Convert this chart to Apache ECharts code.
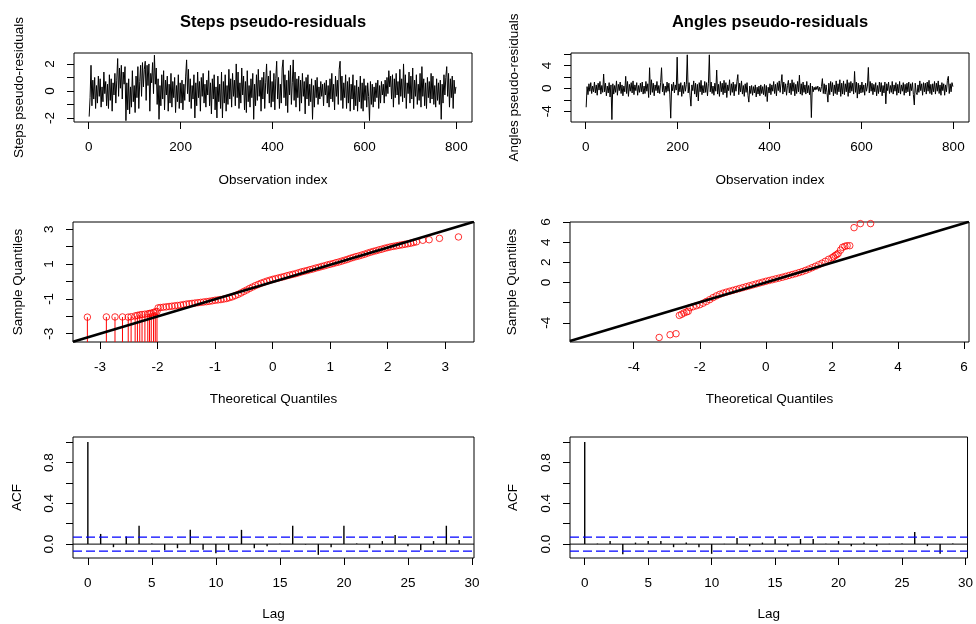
<!DOCTYPE html>
<html><head><meta charset="utf-8">
<script src="https://cdn.jsdelivr.net/npm/echarts@6/dist/echarts.min.js"></script>
<style>html,body{margin:0;padding:0;background:#fff}#c{width:976px;height:624px}</style>
</head><body><div id="c"></div>
<script>
// ---------------- DATA ----------------
// Steps pseudo-residuals (read at every 2nd observation, index 1,3,5,...)
const stepsResid = [
-1.9,-0.5,1.9,-1.1,0.8,-0.6,1.0,-1.3,0.4,-0.9,
1.1,-0.4,0.9,-1.2,0.3,-0.8,1.4,-0.2,0.7,-1.1,
0.5,-1.3,1.2,-0.7,0.9,-1.5,0.6,-0.3,1.3,-0.9,
0.8,2.4,-0.4,1.7,0.2,1.9,-0.6,1.4,0.5,1.8,
-2.2,0.6,-1.4,0.9,-1.7,0.3,-1.2,1.5,-0.8,0.4,
-1.6,1.1,-0.5,1.8,-1.3,0.7,1.9,-0.4,2.1,0.3,
1.6,2.2,-0.7,1.9,0.4,2.0,-1.5,1.3,0.6,2.1,
-0.2,2.65,0.5,1.7,-1.0,0.9,-2.1,0.4,-1.1,1.2,
-0.6,1.5,-1.4,0.8,-0.3,1.1,-1.5,0.5,-0.9,1.3,
-1.2,0.7,-0.5,1.0,-1.6,0.4,-0.8,1.2,-1.3,0.6,
-0.9,0.8,-1.4,0.5,-0.7,1.1,2.3,-0.2,1.6,-0.8,
0.9,-1.3,0.4,-0.6,1.2,-2.0,0.6,-1.1,1.4,-0.5,
0.7,-1.5,1.0,-0.4,1.3,-0.9,0.5,-1.2,0.8,-0.3,
1.5,-1.1,0.6,-1.7,0.9,-0.6,1.2,-1.4,0.3,-2.0,
1.1,-0.8,0.5,-1.3,1.4,-2.0,0.7,-0.9,1.2,-1.5,
0.4,-1.0,1.6,-0.6,0.9,-1.2,1.3,-0.4,0.8,-1.1,
2.0,-0.5,1.4,-1.3,0.6,-0.9,1.7,-0.3,1.1,-1.4,
0.7,-1.6,1.5,-0.8,0.4,-1.2,0.9,-0.5,1.3,-2.1,
0.5,-1.1,1.2,-0.7,1.6,-0.4,0.8,-1.5,1.0,-0.6,
1.4,-1.3,0.6,2.0,-0.2,1.1,-0.9,1.5,-1.2,0.7,
-0.8,1.3,-1.4,0.9,2.2,-0.6,1.0,-1.3,0.5,-0.9,
1.7,2.3,-0.5,1.2,-1.1,0.8,-1.6,1.5,-0.3,1.9,
-1.0,0.6,2.3,-0.7,1.4,-1.2,0.9,-0.5,1.1,-1.5,
0.8,-0.9,1.3,-0.4,0.7,-1.7,1.0,-0.6,1.2,-1.1,
0.5,-0.8,0.9,-2.1,0.4,-1.2,0.8,-0.5,1.0,-1.0,
0.3,-0.6,0.7,-0.4,0.5,-1.1,0.6,-0.3,0.8,-0.9,
0.4,-1.2,0.9,-0.6,1.3,-0.8,0.5,-1.4,1.1,-0.4,
0.8,-1.0,1.6,2.2,-0.7,1.1,-1.3,0.6,-0.5,1.2,
-1.3,0.7,-0.9,1.0,-1.5,0.5,-0.6,1.2,-1.4,0.4,
-1.1,0.8,-1.5,0.3,-0.8,1.1,-1.3,0.6,-1.5,0.9,
-0.7,0.4,-1.2,0.6,-0.4,-2.2,0.7,-1.0,0.5,-1.2,
0.3,-0.8,0.6,-0.5,0.8,-1.3,0.4,-0.9,0.7,-0.3,
0.5,-0.9,0.8,-0.4,1.0,-0.2,1.5,0.3,1.1,-0.6,
1.2,-1.2,0.9,-0.5,1.3,-0.3,0.7,-1.0,1.6,-0.4,
0.9,-0.8,2.0,-0.5,1.2,-1.3,0.6,-0.2,1.4,-0.9,
1.1,-0.6,1.7,-1.3,0.8,-0.4,1.2,-1.0,0.5,-0.7,
1.3,-1.2,1.8,-0.4,0.9,-1.1,0.6,-1.3,1.0,-0.5,
0.7,-0.9,1.3,-0.6,1.1,-1.0,0.4,-1.2,0.9,-0.7,
0.6,-1.0,0.8,-2.1,0.5,-0.9,1.2,-0.3,1.0,1.8,
-0.4,1.3,-1.2,0.9,-0.5,1.1,-1.3,0.8,-0.2,0.3];

// Angles pseudo-residuals (same observation indices)
const anglesResid = [
-3.3,0.3,-1.1,0.8,-0.5,1.0,-0.9,0.4,-0.6,1.1,
-0.8,0.6,-1.2,0.9,-0.3,1.2,-1.0,0.5,-0.7,2.5,
-0.6,0.9,-1.3,0.4,-0.8,1.0,-1.5,0.6,-5.45,0.8,
-1.0,0.5,-0.7,1.3,-1.2,0.7,-0.4,1.1,-0.9,0.6,
-1.3,0.4,-0.6,2.1,-0.9,1.2,-1.4,0.7,-0.5,1.0,
-0.8,1.3,-1.1,0.6,-0.4,1.0,-1.2,0.5,-0.7,0.9,
-0.6,1.1,-1.0,0.4,-0.9,1.2,-0.5,0.8,-1.6,3.6,
-1.1,1.5,-0.7,0.9,-1.3,0.6,-0.4,1.2,-0.8,0.5,
-0.9,1.0,3.6,-0.6,0.8,-1.2,0.4,-0.7,1.1,-0.5,
0.9,-1.0,-5.2,0.7,-0.4,1.1,-0.8,0.6,-0.3,5.45,
-1.2,0.8,-0.6,1.0,-1.4,0.5,-0.9,1.1,-0.5,0.7,
5.85,-0.8,1.0,-1.2,-3.1,0.6,-0.4,1.3,-1.0,0.9,
-1.5,0.7,-2.2,1.0,-0.6,1.4,-1.1,0.5,-0.8,1.2,
-0.7,1.0,-1.3,0.8,5.85,-0.6,1.1,-0.9,0.4,-1.2,
0.9,-0.5,3.2,-1.0,0.7,-1.4,1.2,-0.6,0.9,-1.1,
1.4,-0.8,1.0,-1.6,0.6,-0.4,1.5,-1.2,0.8,-0.7,
1.1,-1.3,0.7,-0.5,1.2,2.4,-1.1,0.9,-0.6,1.3,
-1.0,0.5,-1.4,0.8,-0.7,1.0,-1.2,-2.4,0.4,-0.9,
0.5,-1.2,0.3,-0.8,0.6,-1.5,0.2,-1.0,0.4,-1.3,
0.6,-0.9,0.3,-1.1,0.7,-1.4,0.5,-2.3,0.2,-0.8,
0.8,-1.1,0.6,-0.5,1.2,-0.9,0.7,-1.3,1.0,-0.4,
1.3,-0.7,0.9,2.4,-1.0,1.1,-0.6,0.8,-1.2,0.5,
1.4,-0.8,0.9,-1.1,1.5,-0.5,1.0,-1.3,0.7,-0.9,
1.2,-0.6,2.3,-1.0,0.8,-1.2,1.1,-0.7,0.6,-1.0,
1.2,-0.8,0.5,-1.1,0.9,-5.1,0.4,-0.6,0.2,-0.3,
0.3,-0.2,0.4,-0.5,0.2,-0.6,0.3,1.7,-0.9,0.8,
-1.0,0.6,-0.7,-2.4,0.9,-1.1,1.2,-0.6,1.0,-1.3,
0.6,-0.9,1.3,-1.1,0.8,-0.6,1.5,-1.4,0.9,-1.0,
1.3,-1.1,0.8,-0.6,1.5,-1.4,1.0,-0.8,1.2,-0.5,
0.9,-1.0,2.95,-0.7,1.1,-1.7,0.9,-1.0,0.6,-0.8,
1.1,-0.7,0.6,-1.2,0.9,-0.5,0.4,3.65,-0.8,1.2,
-0.5,0.9,-1.1,0.7,-0.6,1.0,-1.3,0.5,-0.9,1.1,
-0.6,1.0,-1.3,0.5,-0.8,1.1,-2.7,0.8,-0.4,1.1,
-0.9,0.5,-0.7,1.2,-1.0,0.6,-0.5,1.0,-1.2,0.7,
-0.8,1.2,-1.0,0.6,-0.5,1.0,-1.2,0.7,-0.8,0.9,
-0.6,1.1,-1.3,0.8,-0.4,1.0,-1.1,-2.9,0.9,-0.7,
-1.1,0.6,-0.7,1.3,-0.4,0.8,-1.2,1.0,-0.6,0.9,
-1.0,1.1,-0.5,1.4,-0.9,0.7,-1.1,0.8,-0.6,1.2,
-1.0,0.9,-0.5,1.3,-0.9,0.6,-1.2,1.0,-0.4,0.8,
-1.2,0.6,-0.6,1.4,2.1,-0.9,0.8,-0.6,1.0,0.3];
const obsStep = 2, obsFirst = 1;

// Steps QQ: interval-censored low tail (upper end of interval shown as point)
const qqStepsCensTheo   = [-3.22,-2.89,-2.74,-2.61,-2.51,-2.46,-2.39,-2.35,-2.31,-2.27,-2.22,-2.17,-2.14,-2.11,-2.07,-2.04,-2.01];
const qqStepsCensSample = [-2.05,-2.04,-2.04,-2.04,-2.05,-2.03,-1.98,-1.95,-1.92,-1.90,-1.88,-1.86,-1.84,-1.82,-1.78,-1.75,-1.72];
const qqStepsTheo = [-1.99,-1.95,-1.9,-1.85,-1.8,-1.75,-1.7,-1.65,-1.6,-1.55,-1.5,-1.45,-1.4,-1.35,-1.3,-1.25,-1.2,-1.15,-1.1,-1.05,-1.0,-0.95,-0.9,-0.85,-0.8,-0.75,-0.7,-0.65,-0.6,-0.55,-0.5,-0.45,-0.4,-0.35,-0.3,-0.25,-0.2,-0.15,-0.1,-0.05,0,0.05,0.1,0.15,0.2,0.25,0.3,0.35,0.4,0.45,0.5,0.55,0.6,0.65,0.7,0.75,0.8,0.85,0.9,0.95,1.0,1.05,1.1,1.15,1.2,1.25,1.3,1.35,1.4,1.45,1.5,1.55,1.6,1.65,1.7,1.75,1.8,1.85,1.9,1.95,2.0,2.05,2.1,2.15,2.2,2.25,2.3,2.35,2.4,2.45,2.5,2.61,2.72,2.9,3.23];
const qqStepsSample = [-1.52,-1.50,-1.48,-1.46,-1.44,-1.42,-1.40,-1.38,-1.36,-1.33,-1.30,-1.28,-1.26,-1.24,-1.22,-1.20,-1.18,-1.16,-1.14,-1.11,-1.08,-1.06,-1.04,-1.01,-0.98,-0.93,-0.88,-0.81,-0.74,-0.66,-0.57,-0.49,-0.40,-0.32,-0.24,-0.17,-0.10,-0.04,0.02,0.07,0.12,0.16,0.20,0.24,0.28,0.33,0.37,0.41,0.45,0.50,0.55,0.59,0.63,0.68,0.72,0.77,0.81,0.86,0.90,0.95,0.99,1.03,1.08,1.12,1.17,1.22,1.27,1.33,1.38,1.43,1.47,1.52,1.57,1.63,1.68,1.73,1.77,1.82,1.86,1.91,1.95,1.99,2.02,2.05,2.08,2.11,2.14,2.17,2.20,2.24,2.28,2.37,2.40,2.48,2.56];
const qqStepsLine = {intercept: -0.03, slope: 0.99};

// Angles QQ
const qqAnglesTheo = [-3.23,-2.9,-2.72,-2.62,-2.55,-2.48,-2.40,-2.35,-2.3,-2.2,-2.1,-2.0,-1.9,-1.8,-1.7,-1.6,-1.5,-1.4,-1.3,-1.2,-1.1,-1.0,-0.9,-0.8,-0.7,-0.6,-0.5,-0.4,-0.3,-0.2,-0.1,0,0.1,0.2,0.3,0.4,0.5,0.6,0.7,0.8,0.9,1.0,1.1,1.2,1.3,1.4,1.5,1.6,1.7,1.8,1.9,2.0,2.05,2.1,2.15,2.19,2.26,2.32,2.39,2.46,2.54,2.67,2.86,3.17];
const qqAnglesSample = [-5.45,-5.18,-5.08,-3.26,-3.15,-3.02,-2.92,-2.85,-2.5,-2.4,-2.3,-2.2,-2.05,-1.88,-1.7,-1.5,-1.33,-1.18,-1.06,-0.96,-0.87,-0.78,-0.69,-0.6,-0.51,-0.42,-0.33,-0.24,-0.15,-0.06,0.03,0.12,0.2,0.28,0.36,0.44,0.52,0.61,0.7,0.79,0.88,0.98,1.08,1.2,1.33,1.47,1.61,1.76,1.92,2.1,2.3,2.45,2.55,2.68,2.78,2.88,3.21,3.49,3.59,3.65,3.65,5.44,5.84,5.84];
const qqAnglesLine = {intercept: 0, slope: 0.98};

// ACF
const lags = [0,1,2,3,4,5,6,7,8,9,10,11,12,13,14,15,16,17,18,19,20,21,22,23,24,25,26,27,28,29];
const acfSteps = [1.0,0.10,-0.03,0.075,0.18,0.005,-0.06,-0.04,0.14,-0.055,-0.09,-0.06,0.14,-0.04,-0.02,0.003,0.18,-0.005,-0.105,-0.03,0.18,0.005,-0.04,0.03,0.09,-0.02,-0.06,0.03,0.18,0.04];
const acfAngles = [1.0,0.005,0.03,-0.10,0.015,0.03,0.03,-0.03,0.015,-0.03,-0.095,0.003,0.06,-0.02,0.015,0.05,-0.02,0.05,0.05,0.003,0.03,-0.02,0.015,-0.02,0.003,0.005,0.12,-0.02,-0.095,0.005];
const acfCI = 0.0693;

// Tick values / labels
const tsXTicks = [0,200,400,600,800];
const stepsTsYTicks = [-2,-1,0,1,2], stepsTsYLabels = [-2,0,2];
const anglesTsYTicks = [-4,-2,0,2,4,6], anglesTsYLabels = [-4,0,4];
const qqStepsXTicks = [-3,-2,-1,0,1,2,3];
const qqStepsYTicks = [-3,-2,-1,0,1,2,3], qqStepsYLabels = [-3,-1,1,3];
const qqAnglesXTicks = [-4,-2,0,2,4,6];
const qqAnglesYTicks = [-4,-2,0,2,4,6], qqAnglesYLabels = [-4,0,2,4,6];
const acfXTicks = [0,5,10,15,20,25,30];
const acfYTicks = [0,0.2,0.4,0.6,0.8,1.0], acfYLabels = [0,0.4,0.8];

// ---------------- LAYOUT ----------------
const FONT = 'Liberation Sans, Arial, sans-serif';
const FS = 13.5;
const ext = {
  ts:  {x:[-32,834]},
  tsS: {y:[-2.3,2.81]},
  tsA: {y:[-5.87,6.17]},
  qqS: {x:[-3.47,3.5], y:[-3.48,3.42]},
  qqA: {x:[-5.93,6.15], y:[-5.9,6.0]},
  acf: {x:[-1.16,30.16], y:[-0.136,1.05]}
};
const grids = [
  {left:74, top:53, width:398, height:69},
  {left:571, top:53, width:398, height:69},
  {left:73, top:222, width:401, height:120},
  {left:570, top:222, width:399, height:120},
  {left:73, top:437, width:401, height:121},
  {left:570, top:437, width:399, height:121}
].map(g => Object.assign({show:true, borderColor:'#000', borderWidth:1, backgroundColor:'transparent'}, g));

const nameStyle = {color:'#000', fontSize:FS, fontFamily:FONT};
function fmt(dec){ return v => (dec ? Number(v).toFixed(dec) : String(Math.round(v))); }
function xAx(gi, rng, ticks, labels, name, gap, dec){
  return {type:'value', gridIndex:gi, min:rng[0], max:rng[1], position:'bottom',
    axisLine:{show:false, onZero:false}, splitLine:{show:false},
    axisTick:{show:true, length:7, inside:false, customValues:ticks, lineStyle:{color:'#000', width:1}},
    axisLabel:{show:true, customValues:labels, margin:18, color:'#000', fontSize:FS, fontFamily:FONT, formatter:fmt(dec)},
    name:name, nameLocation:'middle', nameGap:gap, nameTextStyle:nameStyle};
}
function yAx(gi, rng, ticks, labels, name, gap, dec){
  return {type:'value', gridIndex:gi, min:rng[0], max:rng[1], position:'left',
    axisLine:{show:false, onZero:false}, splitLine:{show:false},
    axisTick:{show:true, length:7, inside:false, customValues:ticks, lineStyle:{color:'#000', width:1}},
    axisLabel:{show:true, customValues:labels, margin:17, rotate:90, color:'#000', fontSize:FS, fontFamily:FONT, formatter:fmt(dec)},
    name:name, nameLocation:'middle', nameGap:gap, nameRotate:90, nameTextStyle:nameStyle};
}

const xAxes = [
  xAx(0, ext.ts.x, tsXTicks, tsXTicks, 'Observation index', 51, 0),
  xAx(1, ext.ts.x, tsXTicks, tsXTicks, 'Observation index', 51, 0),
  xAx(2, ext.qqS.x, qqStepsXTicks, qqStepsXTicks, 'Theoretical Quantiles', 50, 0),
  xAx(3, ext.qqA.x, qqAnglesXTicks, qqAnglesXTicks, 'Theoretical Quantiles', 50, 0),
  xAx(4, ext.acf.x, acfXTicks, acfXTicks, 'Lag', 49, 0),
  xAx(5, ext.acf.x, acfXTicks, acfXTicks, 'Lag', 49, 0)
];
const yAxes = [
  yAx(0, ext.tsS.y, stepsTsYTicks, stepsTsYLabels, 'Steps pseudo-residuals', 48, 0),
  yAx(1, ext.tsA.y, anglesTsYTicks, anglesTsYLabels, 'Angles pseudo-residuals', 50, 0),
  yAx(2, ext.qqS.y, qqStepsYTicks, qqStepsYLabels, 'Sample Quantiles', 48, 0),
  yAx(3, ext.qqA.y, qqAnglesYTicks, qqAnglesYLabels, 'Sample Quantiles', 51, 0),
  yAx(4, ext.acf.y, acfYTicks, acfYLabels, 'ACF', 49, 1),
  yAx(5, ext.acf.y, acfYTicks, acfYLabels, 'ACF', 50, 1)
];

// ---------------- SERIES ----------------
function tsSeries(i, vals){
  return {type:'line', xAxisIndex:i, yAxisIndex:i, symbol:'none', showSymbol:false, clip:true,
    lineStyle:{color:'#000', width:1}, animation:false,
    data: vals.map((v,k) => [obsFirst + obsStep*k, v])};
}
function qqPoints(i, xs, ys){
  return {type:'scatter', xAxisIndex:i, yAxisIndex:i, symbol:'circle', symbolSize:6.5, clip:true,
    itemStyle:{color:'transparent', borderColor:'#ff0000', borderWidth:1}, z:3,
    data: xs.map((x,k) => [x, ys[k]])};
}
function abline(i, rx, line){
  return {type:'line', xAxisIndex:i, yAxisIndex:i, symbol:'none', clip:true, z:5,
    lineStyle:{color:'#000', width:2.6},
    data: rx.map(x => [x, line.intercept + line.slope*x])};
}
function hline(i, rx, y, color, type, width){
  return {type:'line', xAxisIndex:i, yAxisIndex:i, symbol:'none', clip:true, z:4,
    lineStyle:{color:color, type:type, width:width},
    data: rx.map(x => [x, y])};
}
function sticks(i, vals){
  return {type:'custom', xAxisIndex:i, yAxisIndex:i, clip:true, z:3,
    data: lags.map((l,k) => [l, vals[k]]),
    renderItem: function(params, api){
      const x = api.value(0), y = api.value(1);
      const a = api.coord([x, 0]), b = api.coord([x, y]);
      return {type:'line', shape:{x1:a[0], y1:a[1], x2:b[0], y2:b[1]}, style:{stroke:'#000', lineWidth:1.4}};
    }};
}
const censSegments = {type:'custom', xAxisIndex:2, yAxisIndex:2, clip:true, z:2,
  data: qqStepsCensTheo.map((x,k) => [x, qqStepsCensSample[k]]),
  renderItem: function(params, api){
    const x = api.value(0), y = api.value(1);
    const a = api.coord([x, y]), b = api.coord([x, ext.qqS.y[0]]);
    return {type:'line', shape:{x1:a[0], y1:a[1], x2:b[0], y2:b[1]}, style:{stroke:'#ff0000', lineWidth:1}};
  }};

const series = [
  tsSeries(0, stepsResid),
  tsSeries(1, anglesResid),
  censSegments,
  qqPoints(2, qqStepsCensTheo, qqStepsCensSample),
  qqPoints(2, qqStepsTheo, qqStepsSample),
  abline(2, ext.qqS.x, qqStepsLine),
  qqPoints(3, qqAnglesTheo, qqAnglesSample),
  abline(3, ext.qqA.x, qqAnglesLine),
  hline(4, ext.acf.x, 0, '#000', 'solid', 1),
  hline(4, ext.acf.x, acfCI, '#0000ff', [9,4], 1.3),
  hline(4, ext.acf.x, -acfCI, '#0000ff', [9,4], 1.3),
  sticks(4, acfSteps),
  hline(5, ext.acf.x, 0, '#000', 'solid', 1),
  hline(5, ext.acf.x, acfCI, '#0000ff', [9,4], 1.3),
  hline(5, ext.acf.x, -acfCI, '#0000ff', [9,4], 1.3),
  sticks(5, acfAngles)
];

const chart = echarts.init(document.getElementById('c'), null, {renderer:'canvas'});
chart.setOption({
  animation:false,
  backgroundColor:'#fff',
  textStyle:{fontFamily:FONT},
  grid: grids,
  xAxis: xAxes,
  yAxis: yAxes,
  graphic: [
    {type:'text', x:273, y:22, style:{text:'Steps pseudo-residuals', font:'bold 16.5px ' + FONT, fill:'#000', textAlign:'center', textVerticalAlign:'middle'}},
    {type:'text', x:770, y:22, style:{text:'Angles pseudo-residuals', font:'bold 16.5px ' + FONT, fill:'#000', textAlign:'center', textVerticalAlign:'middle'}}
  ],
  series: series
});
</script></body></html>
